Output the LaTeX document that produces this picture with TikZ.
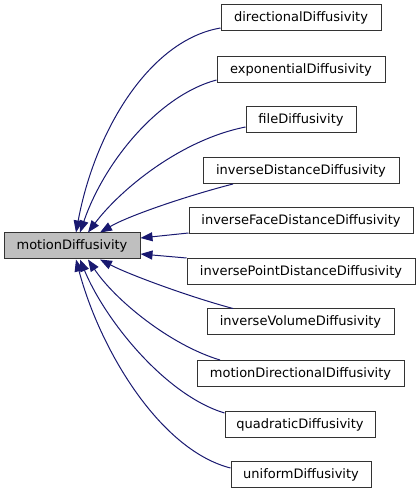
\documentclass[tikz,border=0pt]{standalone}
\usepackage{fontspec}
\setmainfont{DejaVu Sans}
\usetikzlibrary{arrows.meta,calc}
\definecolor{edgeblue}{HTML}{191970}
\definecolor{mainfill}{HTML}{BFBFBF}
\tikzset{
  box/.style={draw=black!80, line width=1pt, minimum height=26pt, inner sep=0pt, font=\fontsize{13}{15}\selectfont, text=black},
  mainbox/.style={box, fill=mainfill},
  edge/.style={draw=edgeblue, line width=1pt, -{Triangle[length=12pt,width=9pt]}}
}
\begin{document}
\begin{tikzpicture}[x=1pt,y=1pt]
\useasboundingbox (0,0) rectangle (420,493);
\node[mainbox, minimum width=136pt] (main) at (72,247) {motionDiffusivity};
\node[box, minimum width=160pt] (dir) at (301,475) {directionalDiffusivity};
\node[box, minimum width=168pt] (exp) at (301,423.5) {exponentialDiffusivity};
\node[box, minimum width=110pt] (file) at (301,373) {fileDiffusivity};
\node[box, minimum width=196pt] (idist) at (301,322.5) {inverseDistanceDiffusivity};
\node[box, minimum width=224pt] (iface) at (301,272) {inverseFaceDistanceDiffusivity};
\node[box, minimum width=228pt] (ipoint) at (301,221) {inversePointDistanceDiffusivity};
\node[box, minimum width=187pt] (ivol) at (300.5,171) {inverseVolumeDiffusivity};
\node[box, minimum width=207pt] (mdir) at (300.5,119.5) {motionDirectionalDiffusivity};
\node[box, minimum width=150pt] (quad) at (300,68.5) {quadraticDiffusivity};
\node[box, minimum width=140pt] (unif) at (301,18) {uniformDiffusivity};

\draw[edge] ($(dir.west)+(0,-10)$) .. controls (150,453) and (95,363) .. ($(main.north)+(4,0)$);
\draw[edge] ($(exp.west)+(0,-10.5)$) .. controls (160,398) and (105,333) .. ($(main.north)+(8,0)$);
\draw[edge] ($(file.west)+(0,-7)$) .. controls (180,353) and (120,303) .. ($(main.north)+(16,0)$);
\draw[edge] ($(idist.south)+(-68,0)$) .. controls (190,298) and (130,278) .. ($(main.north)+(28,0)$);
\draw[edge] ($(iface.west)+(0,-12)$) -- ($(main.east)+(0,8)$);
\draw[edge] ($(ipoint.west)+(0,14)$) -- ($(main.east)+(0,-8)$);
\draw[edge] ($(ivol.north)+(-67.5,0)$) .. controls (190,196) and (130,218) .. ($(main.south)+(28,0)$);
\draw[edge] ($(mdir.north)+(-80.5,0)$) .. controls (170,148) and (115,193) .. ($(main.south)+(16,0)$);
\draw[edge] ($(quad.west)+(0,11.5)$) .. controls (165,98) and (105,173) .. ($(main.south)+(8,0)$);
\draw[edge] ($(unif.west)+(0,7)$) .. controls (160,43) and (100,143) .. ($(main.south)+(4,0)$);
\end{tikzpicture}
\end{document}
